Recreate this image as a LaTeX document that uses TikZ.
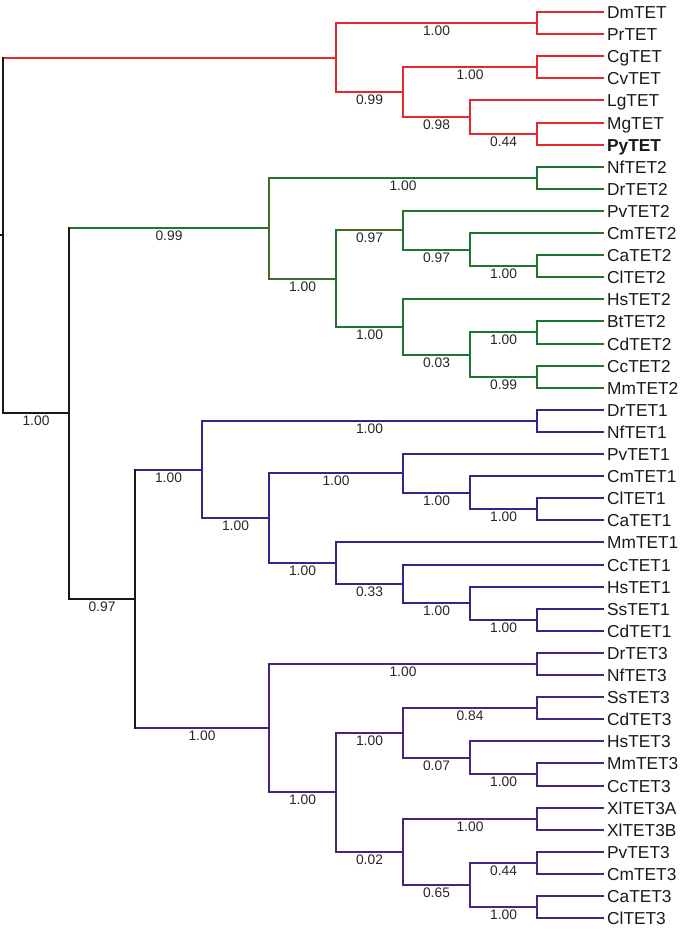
\documentclass[tikz,border=0pt]{standalone}
\usepackage{fontspec}
\setmainfont{Liberation Sans}
\newcommand\leaffont{\fontsize{17.3}{18}\selectfont}
\newcommand\supfont{\fontsize{13.8}{14}\selectfont}
\definecolor{cred}{RGB}{232,38,44}
\definecolor{cgreen}{RGB}{28,118,48}
\definecolor{colive}{RGB}{70,105,40}
\definecolor{cpurp}{RGB}{52,38,135}
\definecolor{cpurp3}{RGB}{70,36,128}
\definecolor{cblack}{RGB}{25,25,25}
\newcommand\hbr[4]{\draw[br,#1] (#2 |- #3) -- node[sup]{#4} (#3);}
\newcommand\vbr[4]{\draw[br,#1] (#2 |- #3) -- (#2 |- #4);}
\begin{document}
\begin{tikzpicture}[x=1pt,y=-1pt,
  br/.style={line width=1.6pt, line cap=rect},
  leaf/.style={anchor=west, inner xsep=4pt, inner ysep=0pt, text height=12.4pt, text depth=0pt, font=\leaffont, text=black!90},
  sup/.style={midway, below, inner sep=2pt, font=\supfont, text=black!85}]
\useasboundingbox (0,0) rectangle (700,934);
% leaves
\node[leaf] (Dm)  at (603,12)  {DmTET};
\node[leaf] (Pr)  at (603,34)  {PrTET};
\node[leaf] (Cg)  at (603,56)  {CgTET};
\node[leaf] (Cv)  at (603,78)  {CvTET};
\node[leaf] (Lg)  at (603,100) {LgTET};
\node[leaf] (Mg)  at (603,123) {MgTET};
\node[leaf] (Py)  at (603,145) {\bfseries PyTET};
\node[leaf] (Nf2) at (603,167) {NfTET2};
\node[leaf] (Dr2) at (603,189) {DrTET2};
\node[leaf] (Pv2) at (603,211) {PvTET2};
\node[leaf] (Cm2) at (603,233) {CmTET2};
\node[leaf] (Ca2) at (603,255) {CaTET2};
\node[leaf] (Cl2) at (603,277) {ClTET2};
\node[leaf] (Hs2) at (603,299) {HsTET2};
\node[leaf] (Bt2) at (603,321) {BtTET2};
\node[leaf] (Cd2) at (603,344) {CdTET2};
\node[leaf] (Cc2) at (603,366) {CcTET2};
\node[leaf] (Mm2) at (603,388) {MmTET2};
\node[leaf] (Dr1) at (603,410) {DrTET1};
\node[leaf] (Nf1) at (603,432) {NfTET1};
\node[leaf] (Pv1) at (603,454) {PvTET1};
\node[leaf] (Cm1) at (603,476) {CmTET1};
\node[leaf] (Cl1) at (603,498) {ClTET1};
\node[leaf] (Ca1) at (603,520) {CaTET1};
\node[leaf] (Mm1) at (603,542) {MmTET1};
\node[leaf] (Cc1) at (603,565) {CcTET1};
\node[leaf] (Hs1) at (603,587) {HsTET1};
\node[leaf] (Ss1) at (603,609) {SsTET1};
\node[leaf] (Cd1) at (603,631) {CdTET1};
\node[leaf] (Dr3) at (603,653) {DrTET3};
\node[leaf] (Nf3) at (603,675) {NfTET3};
\node[leaf] (Ss3) at (603,697) {SsTET3};
\node[leaf] (Cd3) at (603,719) {CdTET3};
\node[leaf] (Hs3) at (603,741) {HsTET3};
\node[leaf] (Mm3) at (603,763) {MmTET3};
\node[leaf] (Cc3) at (603,786) {CcTET3};
\node[leaf] (XlA) at (603,808) {XlTET3A};
\node[leaf] (XlB) at (603,830) {XlTET3B};
\node[leaf] (Pv3) at (603,852) {PvTET3};
\node[leaf] (Cm3) at (603,874) {CmTET3};
\node[leaf] (Ca3) at (603,896) {CaTET3};
\node[leaf] (Cl3) at (603,918) {ClTET3};
% internal nodes
\coordinate (rootstem) at (0,235);
\coordinate (root)   at (3,235);
\coordinate (nb)     at (69,413);
\coordinate (nred)   at (336,58);
\coordinate (nr403)  at (403,92);
\coordinate (nr470)  at (470,117);
\coordinate (nDmPr)  at (537,23);
\coordinate (nCgCv)  at (537,67);
\coordinate (nMgPy)  at (537,134);
\coordinate (ngreen) at (269,228);
\coordinate (nNfDr2) at (537,178);
\coordinate (ng336)  at (336,279);
\coordinate (ng403a) at (403,230);
\coordinate (ng470a) at (470,250);
\coordinate (nCaCl2) at (537,266);
\coordinate (ng403b) at (403,327);
\coordinate (ng470b) at (470,355);
\coordinate (nBtCd2) at (537,332);
\coordinate (nCcMm2) at (537,377);
\coordinate (n135)   at (135,599);
\coordinate (ntet1)  at (202,470);
\coordinate (nDrNf1) at (537,421);
\coordinate (nt1b)   at (269,518);
\coordinate (nPv1)   at (403,473);
\coordinate (nCm1)   at (470,493);
\coordinate (nClCa1) at (537,509);
\coordinate (nMm1)   at (336,563);
\coordinate (nCc1)   at (403,584);
\coordinate (nHs1)   at (470,603);
\coordinate (nSsCd1) at (537,620);
\coordinate (ntet3)  at (269,728);
\coordinate (nDrNf3) at (537,664);
\coordinate (nt3b)   at (336,792);
\coordinate (nSs3)   at (403,733);
\coordinate (nSsCd3) at (537,708);
\coordinate (nHs3)   at (470,758);
\coordinate (nMmCc3) at (537,774);
\coordinate (nXl4)   at (403,852);
\coordinate (nXl)    at (537,819);
\coordinate (nPv3)   at (470,885);
\coordinate (nPvCm3) at (537,863);
\coordinate (nCaCl3) at (537,907);
% ---- horizontals
\draw[br,cblack] (rootstem) -- (root);
% red
\hbr{cred}{root}{nred}{}
\hbr{cred}{nred}{nDmPr}{1.00}
\hbr{cred}{nred}{nr403}{0.99}
\hbr{cred}{nr403}{nCgCv}{1.00}
\hbr{cred}{nr403}{nr470}{0.98}
\hbr{cred}{nr470}{Lg.west}{}
\hbr{cred}{nr470}{nMgPy}{0.44}
\hbr{cred}{nDmPr}{Dm.west}{}
\hbr{cred}{nDmPr}{Pr.west}{}
\hbr{cred}{nCgCv}{Cg.west}{}
\hbr{cred}{nCgCv}{Cv.west}{}
\hbr{cred}{nMgPy}{Mg.west}{}
\hbr{cred}{nMgPy}{Py.west}{}
% black
\hbr{cblack}{root}{nb}{1.00}
\hbr{cblack}{nb}{n135}{0.97}
% green
\hbr{cgreen}{nb}{ngreen}{0.99}
\hbr{cgreen}{ngreen}{nNfDr2}{1.00}
\hbr{colive}{ngreen}{ng336}{1.00}
\hbr{colive}{ng336}{ng403a}{0.97}
\hbr{cgreen}{ng336}{ng403b}{1.00}
\hbr{cgreen}{ng403a}{Pv2.west}{}
\hbr{cgreen}{ng403a}{ng470a}{0.97}
\hbr{cgreen}{ng470a}{Cm2.west}{}
\hbr{cgreen}{ng470a}{nCaCl2}{1.00}
\hbr{cgreen}{ng403b}{Hs2.west}{}
\hbr{cgreen}{ng403b}{ng470b}{0.03}
\hbr{cgreen}{ng470b}{nBtCd2}{1.00}
\hbr{cgreen}{ng470b}{nCcMm2}{0.99}
\hbr{cgreen}{nNfDr2}{Nf2.west}{}
\hbr{cgreen}{nNfDr2}{Dr2.west}{}
\hbr{cgreen}{nCaCl2}{Ca2.west}{}
\hbr{cgreen}{nCaCl2}{Cl2.west}{}
\hbr{cgreen}{nBtCd2}{Bt2.west}{}
\hbr{cgreen}{nBtCd2}{Cd2.west}{}
\hbr{cgreen}{nCcMm2}{Cc2.west}{}
\hbr{cgreen}{nCcMm2}{Mm2.west}{}
% TET1
\hbr{cpurp}{n135}{ntet1}{1.00}
\hbr{cpurp}{ntet1}{nDrNf1}{1.00}
\hbr{cpurp}{ntet1}{nt1b}{1.00}
\hbr{cpurp}{nt1b}{nPv1}{1.00}
\hbr{cpurp}{nt1b}{nMm1}{1.00}
\hbr{cpurp}{nPv1}{Pv1.west}{}
\hbr{cpurp}{nPv1}{nCm1}{1.00}
\hbr{cpurp}{nCm1}{Cm1.west}{}
\hbr{cpurp}{nCm1}{nClCa1}{1.00}
\hbr{cpurp}{nMm1}{Mm1.west}{}
\hbr{cpurp}{nMm1}{nCc1}{0.33}
\hbr{cpurp}{nCc1}{Cc1.west}{}
\hbr{cpurp}{nCc1}{nHs1}{1.00}
\hbr{cpurp}{nHs1}{Hs1.west}{}
\hbr{cpurp}{nHs1}{nSsCd1}{1.00}
\hbr{cpurp}{nDrNf1}{Dr1.west}{}
\hbr{cpurp}{nDrNf1}{Nf1.west}{}
\hbr{cpurp}{nClCa1}{Cl1.west}{}
\hbr{cpurp}{nClCa1}{Ca1.west}{}
\hbr{cpurp}{nSsCd1}{Ss1.west}{}
\hbr{cpurp}{nSsCd1}{Cd1.west}{}
% TET3
\hbr{cpurp3}{n135}{ntet3}{1.00}
\hbr{cpurp3}{ntet3}{nDrNf3}{1.00}
\hbr{cpurp3}{ntet3}{nt3b}{1.00}
\hbr{cpurp3}{nt3b}{nSs3}{1.00}
\hbr{cpurp3}{nt3b}{nXl4}{0.02}
\hbr{cpurp3}{nSs3}{nSsCd3}{0.84}
\hbr{cpurp3}{nSs3}{nHs3}{0.07}
\hbr{cpurp3}{nHs3}{Hs3.west}{}
\hbr{cpurp3}{nHs3}{nMmCc3}{1.00}
\hbr{cpurp3}{nXl4}{nXl}{1.00}
\hbr{cpurp3}{nXl4}{nPv3}{0.65}
\hbr{cpurp3}{nPv3}{nPvCm3}{0.44}
\hbr{cpurp3}{nPv3}{nCaCl3}{1.00}
\hbr{cpurp3}{nDrNf3}{Dr3.west}{}
\hbr{cpurp3}{nDrNf3}{Nf3.west}{}
\hbr{cpurp3}{nSsCd3}{Ss3.west}{}
\hbr{cpurp3}{nSsCd3}{Cd3.west}{}
\hbr{cpurp3}{nMmCc3}{Mm3.west}{}
\hbr{cpurp3}{nMmCc3}{Cc3.west}{}
\hbr{cpurp3}{nXl}{XlA.west}{}
\hbr{cpurp3}{nXl}{XlB.west}{}
\hbr{cpurp3}{nPvCm3}{Pv3.west}{}
\hbr{cpurp3}{nPvCm3}{Cm3.west}{}
\hbr{cpurp3}{nCaCl3}{Ca3.west}{}
\hbr{cpurp3}{nCaCl3}{Cl3.west}{}
% ---- verticals
\vbr{cblack}{root}{nred}{nb}
\vbr{cblack}{nb}{ngreen}{n135}
\vbr{cblack}{n135}{ntet1}{ntet3}
\vbr{cred}{nred}{nDmPr}{nr403}
\vbr{cred}{nr403}{nCgCv}{nr470}
\vbr{cred}{nr470}{Lg.west}{nMgPy}
\vbr{cred}{nDmPr}{Dm.west}{Pr.west}
\vbr{cred}{nCgCv}{Cg.west}{Cv.west}
\vbr{cred}{nMgPy}{Mg.west}{Py.west}
\vbr{colive}{ngreen}{nNfDr2}{ng336}
\vbr{cgreen}{ng336}{ng403a}{ng403b}
\vbr{cgreen}{ng403a}{Pv2.west}{ng470a}
\vbr{cgreen}{ng470a}{Cm2.west}{nCaCl2}
\vbr{cgreen}{ng403b}{Hs2.west}{ng470b}
\vbr{cgreen}{ng470b}{nBtCd2}{nCcMm2}
\vbr{cgreen}{nNfDr2}{Nf2.west}{Dr2.west}
\vbr{cgreen}{nCaCl2}{Ca2.west}{Cl2.west}
\vbr{cgreen}{nBtCd2}{Bt2.west}{Cd2.west}
\vbr{cgreen}{nCcMm2}{Cc2.west}{Mm2.west}
\vbr{cpurp}{ntet1}{nDrNf1}{nt1b}
\vbr{cpurp}{nt1b}{nPv1}{nMm1}
\vbr{cpurp}{nPv1}{Pv1.west}{nCm1}
\vbr{cpurp}{nCm1}{Cm1.west}{nClCa1}
\vbr{cpurp}{nMm1}{Mm1.west}{nCc1}
\vbr{cpurp}{nCc1}{Cc1.west}{nHs1}
\vbr{cpurp}{nHs1}{Hs1.west}{nSsCd1}
\vbr{cpurp}{nDrNf1}{Dr1.west}{Nf1.west}
\vbr{cpurp}{nClCa1}{Cl1.west}{Ca1.west}
\vbr{cpurp}{nSsCd1}{Ss1.west}{Cd1.west}
\vbr{cpurp3}{ntet3}{nDrNf3}{nt3b}
\vbr{cpurp3}{nt3b}{nSs3}{nXl4}
\vbr{cpurp3}{nSs3}{nSsCd3}{nHs3}
\vbr{cpurp3}{nHs3}{Hs3.west}{nMmCc3}
\vbr{cpurp3}{nXl4}{nXl}{nPv3}
\vbr{cpurp3}{nPv3}{nPvCm3}{nCaCl3}
\vbr{cpurp3}{nDrNf3}{Dr3.west}{Nf3.west}
\vbr{cpurp3}{nSsCd3}{Ss3.west}{Cd3.west}
\vbr{cpurp3}{nMmCc3}{Mm3.west}{Cc3.west}
\vbr{cpurp3}{nXl}{XlA.west}{XlB.west}
\vbr{cpurp3}{nPvCm3}{Pv3.west}{Cm3.west}
\vbr{cpurp3}{nCaCl3}{Ca3.west}{Cl3.west}
\end{tikzpicture}
\end{document}
